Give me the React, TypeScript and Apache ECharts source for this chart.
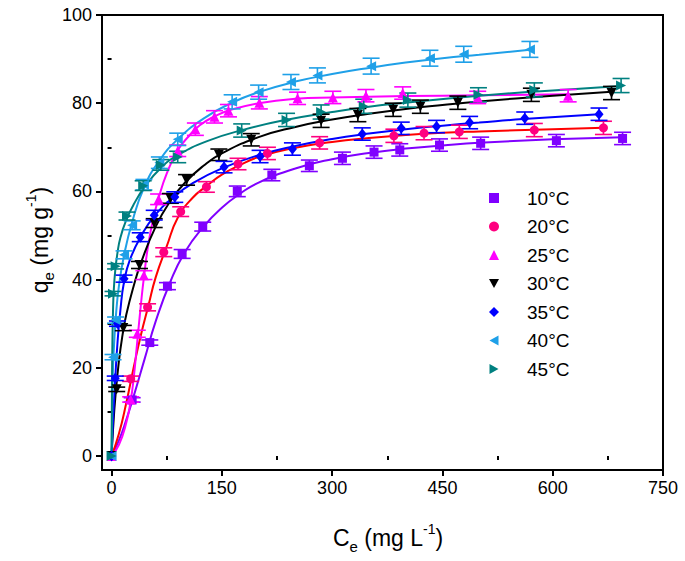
import React, { useEffect, useRef } from 'react';
import * as echarts from 'echarts';

// ---------- data ----------
const names = ['10°C', '20°C', '25°C', '30°C', '35°C', '40°C', '45°C'];

const x10 = [0, 28, 52, 76, 96, 124, 171, 218, 269, 314, 357, 392, 446, 502, 605, 695];
const y10 = [0, 12.7, 25.7, 38.5, 45.8, 52.0, 60.0, 63.7, 65.8, 67.5, 68.9, 69.4, 70.5, 70.9, 71.5, 72.0];
const e10 = [0, 0.5, 0.6, 0.8, 1.0, 1.0, 1.2, 1.3, 1.3, 1.4, 1.4, 1.4, 1.4, 1.4, 1.4, 1.4];

const x20 = [0, 26, 49, 71, 94, 129, 172, 212, 283, 384, 425, 473, 575, 669];
const y20 = [0, 17.5, 33.7, 46.2, 55.4, 61.0, 66.2, 68.6, 71.0, 72.6, 73.2, 73.5, 73.9, 74.4];
const e20 = [0, 0.6, 0.8, 1.0, 1.1, 1.2, 1.3, 1.4, 1.4, 1.5, 1.5, 1.5, 1.5, 1.5];

const x25 = [0, 26, 35, 44, 64, 90, 114, 140, 159, 201, 253, 301, 346, 396, 498, 621];
const y25 = [0, 12.8, 27.7, 41.0, 58.2, 69.2, 74.1, 76.9, 78.3, 80.1, 81.1, 81.3, 81.7, 82.3, 81.3, 81.7];
const e25 = [0, 0.6, 0.8, 1.0, 1.2, 1.3, 1.4, 1.4, 1.4, 1.4, 1.4, 1.4, 1.4, 1.4, 1.4, 1.4];

const x30 = [0, 7, 16, 38, 58, 80, 102, 146, 190, 285, 335, 383, 420, 471, 571, 680];
const y30 = [0, 15.1, 29.0, 43.3, 52.8, 58.4, 62.6, 68.3, 71.7, 76.0, 77.3, 78.5, 79.2, 80.1, 81.9, 82.3];
const e30 = [0, 0.5, 0.6, 0.8, 1.0, 1.1, 1.2, 1.3, 1.4, 1.5, 1.5, 1.5, 1.5, 1.5, 1.5, 1.5];

const x35 = [0, 5, 8, 17, 39, 58, 86, 153, 202, 246, 341, 394, 442, 487, 562, 663];
const y35 = [0, 17.6, 30.0, 40.2, 49.6, 54.6, 58.7, 65.5, 67.9, 69.6, 73.0, 74.3, 74.7, 75.6, 76.6, 77.5];
const e35 = [0, 0.5, 0.6, 0.8, 1.0, 1.1, 1.2, 1.3, 1.4, 1.4, 1.4, 1.4, 1.4, 1.4, 1.4, 1.4];

const x40 = [0, 2, 5.5, 17, 28, 44, 65, 90, 164, 200, 244, 280, 353, 433, 479, 569];
const y40 = [0, 22.4, 30.8, 45.6, 52.3, 61.5, 66.5, 71.8, 80.3, 82.5, 84.8, 86.3, 88.4, 90.2, 91.1, 92.2];
const e40 = [0, 0.6, 0.7, 0.9, 1.0, 1.2, 1.3, 1.4, 1.6, 1.6, 1.7, 1.7, 1.8, 1.8, 1.8, 1.8];

const x45 = [0, 2, 5.5, 21, 43, 67, 90, 177, 238, 285, 343, 403, 499, 575, 693];
const y45 = [0, 36.8, 43.0, 54.4, 61.3, 66.0, 67.8, 73.8, 76.2, 78.0, 79.3, 80.7, 81.9, 83.0, 84.0];
const e45 = [0, 0.5, 0.6, 0.9, 1.1, 1.2, 1.3, 1.5, 1.5, 1.6, 1.6, 1.6, 1.6, 1.6, 1.6];

// fitted curves
const fx10 = [0, 10, 20, 30, 45, 60, 80, 100, 125, 150, 175, 200, 250, 300, 350, 400, 450, 500, 600, 695];
const fy10 = [0, 3.5, 8.2, 13.5, 22, 30.5, 39.5, 46.3, 52, 56.3, 59.5, 62, 65.2, 67.3, 68.7, 69.7, 70.4, 71, 71.8, 72.3];

const fx20 = [0, 10, 20, 30, 40, 50, 60, 75, 90, 110, 130, 150, 175, 200, 250, 300, 350, 400, 450, 500, 600, 669];
const fy20 = [0, 5, 12, 20, 27.5, 34, 40.5, 47.5, 54, 58.5, 61.3, 63.8, 66, 67.8, 69.9, 71.2, 72.1, 72.8, 73.3, 73.6, 74.1, 74.4];

const fx25 = [0, 10, 20, 26, 30, 35, 40, 44, 50, 57, 64, 75, 90, 105, 120, 140, 160, 200, 250, 300, 400, 500, 621];
const fy25 = [0, 2.5, 7.5, 12.5, 17.5, 26, 34.5, 40.5, 48, 54, 58.5, 64, 69.3, 72.5, 75, 77, 78.4, 80, 81, 81.3, 81.6, 81.8, 82.0];

const fx30 = [0, 2, 5, 10, 15, 20, 30, 40, 60, 80, 100, 125, 150, 200, 250, 300, 350, 400, 450, 500, 600, 680];
const fy30 = [0, 6, 13, 21.5, 27.5, 32, 38.5, 43.8, 52, 57.8, 62, 65.8, 68.6, 72.3, 74.6, 76.3, 77.6, 78.7, 79.6, 80.4, 81.7, 82.6];

const fx35 = [0, 2, 5, 8, 12, 17, 25, 40, 60, 85, 110, 150, 200, 250, 300, 350, 400, 450, 500, 560, 663];
const fy35 = [0, 8, 17.5, 25.5, 33, 39.5, 44.5, 49.8, 54.8, 58.8, 61.8, 65.2, 68.2, 70.3, 71.9, 73.1, 74.1, 74.9, 75.6, 76.4, 77.5];

const fx40 = [0, 1, 2, 4, 6, 10, 17, 28, 44, 65, 90, 125, 165, 200, 250, 300, 350, 400, 450, 500, 569];
const fy40 = [0, 12, 20, 27, 32, 38.5, 45.5, 53, 60.8, 67, 71.8, 76.5, 80.2, 82.5, 84.9, 86.6, 88, 89.2, 90.2, 91, 92.1];

const fx45 = [0, 0.5, 1, 2, 3, 5, 8, 12, 20, 30, 45, 67, 90, 130, 180, 240, 300, 350, 400, 500, 600, 693];
const fy45 = [0, 14, 24, 33, 37.5, 42, 46, 49.5, 53.5, 57, 61, 65.3, 68.2, 71.4, 74, 76.3, 78, 79.2, 80.1, 81.7, 82.9, 83.9];

const xMajor = [0, 150, 300, 450, 600, 750];
const xMinor = [75, 225, 375, 525, 675];
const yMajor = [0, 20, 40, 60, 80, 100];
const yMinor = [10, 30, 50, 70, 90];

// ---------- styles ----------
const FONT = 'Arial, "Liberation Sans", Helvetica, sans-serif';
const markerColors = ['#8000FF', '#FF0080', '#FF00FF', '#000000', '#0000FF', '#1FA0E8', '#008080'];
const lineColors = ['#8000FF', '#FF0000', '#FF00FF', '#000000', '#0000FF', '#1FA0E8', '#008080'];
const symbols = [
  'rect',
  'circle',
  'triangle',
  'path://M0,0L10,0L5,9Z',
  'diamond',
  'path://M9,0L9,10L0,5Z',
  'path://M0,0L0,10L9,5Z',
];
const symbolSizes = [9, 9, 10, 10, [9, 11], 10, 10];

const pts = [
  [x10, y10, e10],
  [x20, y20, e20],
  [x25, y25, e25],
  [x30, y30, e30],
  [x35, y35, e35],
  [x40, y40, e40],
  [x45, y45, e45],
];
const fits = [
  [fx10, fy10],
  [fx20, fy20],
  [fx25, fy25],
  [fx30, fy30],
  [fx35, fy35],
  [fx40, fy40],
  [fx45, fy45],
];

function buildOption() {
  const series: any[] = [];
  fits.forEach((f, i) => {
    series.push({
      name: 'fit ' + names[i],
      type: 'line',
      data: f[0].map((x, k) => [x, f[1][k]]),
      showSymbol: false,
      smooth: 0.5,
      lineStyle: { color: lineColors[i], width: 2 },
      z: 2,
      silent: true,
    });
  });
  pts.forEach((p, i) => {
    const color = markerColors[i];
    series.push({
      name: 'err ' + names[i],
      type: 'custom',
      data: p[0].map((x, k) => [x, p[1][k], p[2][k]]),
      renderItem: (params: any, api: any) => {
        const x = api.value(0);
        const y = api.value(1);
        const e = api.value(2);
        if (!e) return { type: 'group', children: [] };
        const t = api.coord([x, y + e]);
        const b = api.coord([x, y - e]);
        const hw = 8.5;
        const st = { stroke: color, lineWidth: 1.6 };
        return {
          type: 'group',
          children: [
            { type: 'line', shape: { x1: t[0], y1: t[1], x2: b[0], y2: b[1] }, style: st },
            { type: 'line', shape: { x1: t[0] - hw, y1: t[1], x2: t[0] + hw, y2: t[1] }, style: st },
            { type: 'line', shape: { x1: b[0] - hw, y1: b[1], x2: b[0] + hw, y2: b[1] }, style: st },
          ],
        };
      },
      z: 3,
      silent: true,
    });
    series.push({
      name: names[i],
      type: 'scatter',
      data: p[0].map((x, k) => [x, p[1][k]]),
      symbol: symbols[i],
      symbolSize: symbolSizes[i],
      itemStyle: { color, opacity: 1 },
      z: 4,
      silent: true,
    });
  });

  const axisLine = { show: true, onZero: false, lineStyle: { color: '#000', width: 2 } };
  const rich = {
    a: { fontSize: 23, fontFamily: FONT, lineHeight: 32, verticalAlign: 'middle', fill: '#000' },
    s: { fontSize: 15, fontFamily: FONT, lineHeight: 32, verticalAlign: 'bottom', fill: '#000' },
    p: { fontSize: 14, fontFamily: FONT, lineHeight: 32, verticalAlign: 'top', fill: '#000' },
  };
  return {
    animation: false,
    backgroundColor: '#fff',
    grid: {
      left: 102,
      top: 15,
      right: 22,
      bottom: 91,
      show: true,
      borderColor: '#000',
      borderWidth: 2,
      backgroundColor: 'transparent',
    },
    legend: {
      data: names,
      orient: 'vertical',
      left: 484,
      top: 183.5,
      itemWidth: 10,
      itemHeight: 10,
      itemGap: 9.5,
      selectedMode: false,
      textStyle: { fontSize: 19, color: '#000', fontFamily: FONT, lineHeight: 19, padding: [0, 0, 0, 23] },
    },
    xAxis: [
      {
        type: 'value',
        min: -13,
        max: 750,
        position: 'bottom',
        axisLine,
        axisTick: { show: true, inside: false, length: 6, lineStyle: { color: '#000', width: 2 }, customValues: xMajor },
        axisLabel: { customValues: xMajor, fontSize: 18, color: '#000', fontFamily: FONT, margin: 9 },
        splitLine: { show: false },
      },
      {
        type: 'value',
        min: -13,
        max: 750,
        position: 'bottom',
        axisLine: { show: false },
        axisTick: { show: true, inside: false, length: 4, lineStyle: { color: '#000', width: 2 }, customValues: xMinor },
        axisLabel: { show: false },
        splitLine: { show: false },
      },
    ],
    yAxis: [
      {
        type: 'value',
        min: -3.2,
        max: 100,
        position: 'left',
        axisLine,
        axisTick: { show: true, inside: false, length: 6, lineStyle: { color: '#000', width: 2 }, customValues: yMajor },
        axisLabel: { customValues: yMajor, fontSize: 18, color: '#000', fontFamily: FONT, margin: 10 },
        splitLine: { show: false },
      },
      {
        type: 'value',
        min: -3.2,
        max: 100,
        position: 'left',
        axisLine: { show: false },
        axisTick: { show: true, inside: false, length: 4, lineStyle: { color: '#000', width: 2 }, customValues: yMinor },
        axisLabel: { show: false },
        splitLine: { show: false },
      },
    ],
    graphic: [
      {
        type: 'text',
        x: 388,
        y: 538,
        style: {
          text: '{a|C}{s|e}{a| (mg L}{p|-1}{a|)}',
          align: 'center',
          verticalAlign: 'middle',
          fill: '#000',
          rich,
        },
      },
      {
        type: 'text',
        x: 40,
        y: 240,
        rotation: Math.PI / 2,
        style: {
          text: '{a|q}{s|e}{a| (mg g}{p|-1}{a|)}',
          align: 'center',
          verticalAlign: 'middle',
          fill: '#000',
          rich,
        },
      },
    ],
    series,
  };
}

export default function App() {
  const ref = useRef<HTMLDivElement>(null);
  useEffect(() => {
    if (!ref.current) return;
    const chart = echarts.init(ref.current, null, { renderer: 'svg' });
    chart.setOption(buildOption() as any);
    return () => chart.dispose();
  }, []);
  return (
    <div
      ref={ref}
      style={{ position: 'absolute', left: 0, top: 0, width: 685, height: 561, background: '#fff' }}
    />
  );
}
